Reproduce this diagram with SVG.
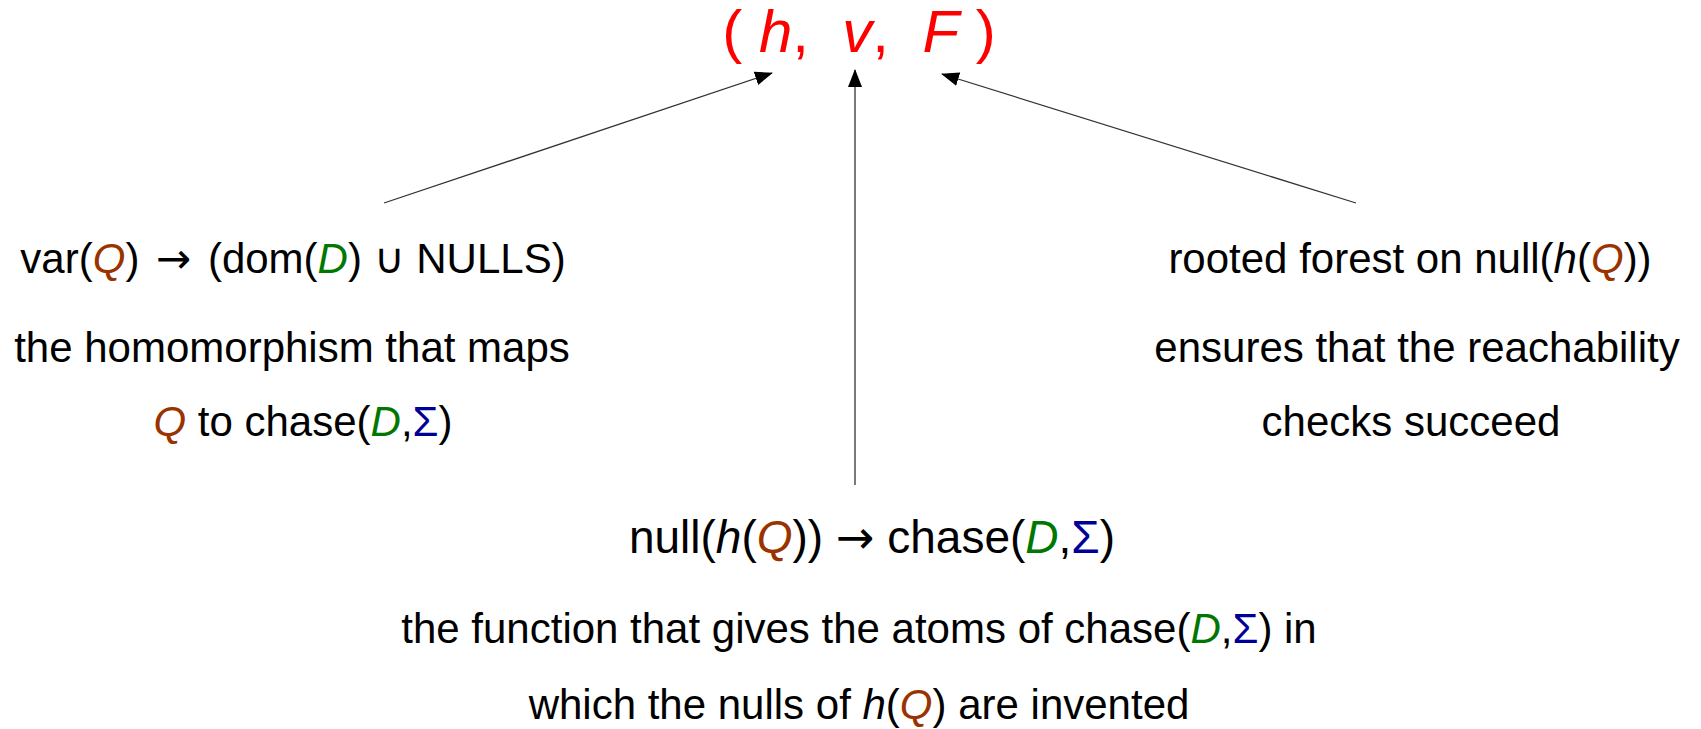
<svg xmlns="http://www.w3.org/2000/svg" width="1701" height="729" viewBox="0 0 1701 729">
<style>
text { font-family: "Liberation Sans", Arial, sans-serif; fill: #000; }
.t { font-size: 42px; }
.big { font-size: 46px; }
.title { font-size: 60px; fill: #ff0000; }
.i { font-style: italic; }
.q { font-style: italic; fill: #993300; }
.d { font-style: italic; fill: #007700; }
.s { fill: #000099; }
.m { font-family: "DejaVu Sans", sans-serif; }
.edge { stroke: #333; stroke-width: 1.3; fill: none; marker-end: url(#ah); }
</style>
<defs>
<marker id="ah" markerUnits="userSpaceOnUse" markerWidth="18" markerHeight="14" refX="17" refY="7" orient="auto">
<path d="M0,0 L18,7 L0,14 Z" fill="#000"/>
</marker>
</defs>
<rect width="1701" height="729" fill="#fff"/>
<g id="connectors">
<line class="edge" x1="384" y1="203" x2="772" y2="73"/>
<line class="edge" x1="855" y1="485" x2="855" y2="70"/>
<line class="edge" x1="1356" y1="203" x2="942" y2="74"/>
</g>
<g id="tuple">
<text class="title" x="859" y="52" text-anchor="middle" xml:space="preserve">( <tspan class="i">h</tspan>,  <tspan class="i">v</tspan>,  <tspan class="i">F</tspan> )</text>
</g>
<g id="node-h">
<text class="t" x="293" y="273" text-anchor="middle">var(<tspan class="q">Q</tspan>) <tspan class="m" dx="5">→</tspan> <tspan dx="5">(dom(</tspan><tspan class="d">D</tspan>) ∪ NULLS)</text>
<text class="t" x="292" y="362" text-anchor="middle">the homomorphism that maps</text>
<text class="t" x="303" y="436" text-anchor="middle"><tspan class="q">Q</tspan> to chase(<tspan class="d">D</tspan>,<tspan class="s">Σ</tspan>)</text>
</g>
<g id="node-F">
<text class="t" x="1410" y="273" text-anchor="middle">rooted forest on null(<tspan class="i">h</tspan>(<tspan class="q">Q</tspan>))</text>
<text class="t" x="1417" y="362" text-anchor="middle">ensures that the reachability</text>
<text class="t" x="1411" y="436" text-anchor="middle">checks succeed</text>
</g>
<g id="node-v">
<text class="big" x="872" y="553" text-anchor="middle">null(<tspan class="i">h</tspan>(<tspan class="q">Q</tspan>)) <tspan class="m">→</tspan> chase(<tspan class="d">D</tspan>,<tspan class="s">Σ</tspan>)</text>
<text class="t" x="859" y="643" text-anchor="middle">the function that gives the atoms of chase(<tspan class="d">D</tspan>,<tspan class="s">Σ</tspan>) in</text>
<text class="t" x="859" y="719" text-anchor="middle">which the nulls of <tspan class="i">h</tspan>(<tspan class="q">Q</tspan>) are invented</text>
</g>
</svg>
